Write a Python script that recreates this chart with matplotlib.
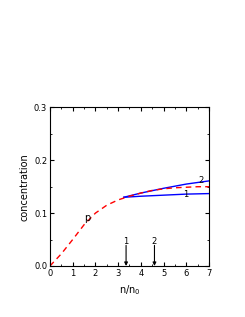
import matplotlib
matplotlib.use("Agg")
import matplotlib.pyplot as plt
from matplotlib.ticker import MultipleLocator

# red dashed curve p
p_x = [0, 0.5, 1, 1.5, 2, 2.5, 3, 3.5, 4, 4.5, 5, 5.5, 6, 6.5, 7]
p_y = [0, 0.023, 0.050, 0.078, 0.100, 0.115, 0.125, 0.132, 0.138, 0.143, 0.146, 0.148, 0.149, 0.150, 0.150]

# blue branches
b1_x = [3.25, 4, 5, 6, 7]
b1_y = [0.130, 0.132, 0.134, 0.136, 0.137]
b2_x = [3.25, 4, 5, 6, 7]
b2_y = [0.130, 0.138, 0.147, 0.155, 0.161]

arrow_x = [3.35, 4.6]
arrow_labels = ["1", "2"]

fig = plt.figure(figsize=(2.45, 3.17), dpi=100)
ax = fig.add_axes([0.204, 0.161, 0.649, 0.500])

ax.plot(b1_x, b1_y, color="blue", lw=1.0)
ax.plot(b2_x, b2_y, color="blue", lw=1.0)
ax.plot(p_x, p_y, color="red", lw=1.0, ls=(0, (4, 3)))

ax.text(1.65, 0.090, "p", fontsize=7, ha="center", va="center")
ax.text(5.98, 0.136, "1", fontsize=6, ha="center", va="center")
ax.text(6.65, 0.161, "2", fontsize=6, ha="center", va="center")

for xa, lab in zip(arrow_x, arrow_labels):
    ax.annotate("", xy=(xa, 0.0), xytext=(xa, 0.039),
                arrowprops=dict(arrowstyle="-|>", color="black", lw=0.8,
                                mutation_scale=5, shrinkA=0, shrinkB=0))
    ax.text(xa, 0.047, lab, fontsize=6, ha="center", va="center")

ax.set_xlim(0, 7)
ax.set_ylim(0, 0.3)
ax.xaxis.set_major_locator(MultipleLocator(1))
ax.xaxis.set_minor_locator(MultipleLocator(0.5))
ax.yaxis.set_minor_locator(MultipleLocator(0.05))
ax.set_yticks([0, 0.1, 0.2, 0.3])
ax.set_yticklabels(["0.0", "0.1", "0.2", "0.3"])
ax.tick_params(which="both", direction="in", top=True, right=True, labelsize=6, pad=2)
ax.tick_params(which="major", length=3, width=0.8)
ax.tick_params(which="minor", length=1.5, width=0.6)
for s in ax.spines.values():
    s.set_linewidth(0.8)

ax.set_xlabel("n/n$_0$", fontsize=7, labelpad=4)
ax.set_ylabel("concentration", fontsize=7, labelpad=3)

fig.savefig("out.png", dpi=100)
